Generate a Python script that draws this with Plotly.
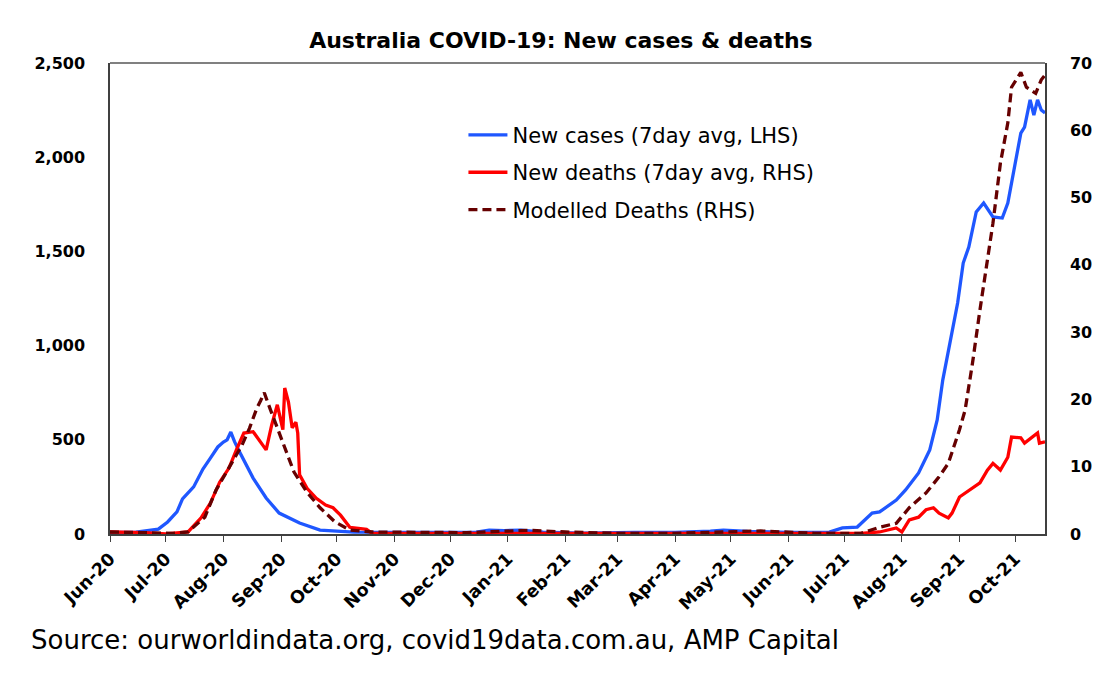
import plotly.graph_objects as go

# ---- data ----
case_dates = ["2020-06-01","2020-06-15","2020-06-27","2020-07-02","2020-07-07","2020-07-10","2020-07-16",
              "2020-07-21","2020-07-25","2020-07-29","2020-08-01","2020-08-03","2020-08-05","2020-08-07",
              "2020-08-10","2020-08-17","2020-08-24","2020-08-31","2020-09-11","2020-09-22","2020-10-10",
              "2020-11-01","2020-12-01","2020-12-15","2020-12-22","2020-12-30","2021-01-08","2021-01-20",
              "2021-02-10","2021-03-10","2021-04-01","2021-04-20","2021-04-27","2021-05-10","2021-06-01",
              "2021-06-23","2021-06-30","2021-07-08","2021-07-16","2021-07-20","2021-07-29","2021-08-03",
              "2021-08-10","2021-08-16","2021-08-20","2021-08-23","2021-08-26","2021-08-31","2021-09-03",
              "2021-09-06","2021-09-10","2021-09-14","2021-09-19","2021-09-24","2021-09-27","2021-10-01",
              "2021-10-04","2021-10-06","2021-10-09","2021-10-11","2021-10-13","2021-10-15","2021-10-17"]
new_cases = [8,10,26,64,117,186,250,
             345,403,462,488,500,541,490,
             430,297,191,111,58,21,10,
             8,9,10,21,18,20,10,
             5,8,9,15,21,14,8,
             10,32,37,111,117,180,234,
             324,446,605,817,977,1226,1438,
             1523,1709,1757,1683,1677,1757,1969,
             2128,2160,2304,2224,2304,2250,2235]

death_dates = ["2020-06-01","2020-06-20","2020-07-01","2020-07-13","2020-07-20","2020-07-25","2020-07-30",
               "2020-08-04","2020-08-08","2020-08-12","2020-08-17","2020-08-20","2020-08-24","2020-08-27",
               "2020-08-30","2020-09-02","2020-09-03","2020-09-05","2020-09-07","2020-09-09","2020-09-10",
               "2020-09-11","2020-09-15","2020-09-20","2020-09-25","2020-09-29","2020-10-03","2020-10-08",
               "2020-10-17","2020-10-20","2020-11-15","2021-01-15","2021-04-01","2021-07-10","2021-07-20",
               "2021-07-29","2021-08-01","2021-08-05","2021-08-10","2021-08-14","2021-08-18","2021-08-21",
               "2021-08-26","2021-08-28","2021-09-01","2021-09-06","2021-09-12","2021-09-16","2021-09-19",
               "2021-09-23","2021-09-27","2021-09-29","2021-10-04","2021-10-06","2021-10-10","2021-10-13",
               "2021-10-14","2021-10-17"]
new_deaths = [0.3,0.2,0.0,0.3,2.4,4.6,7.7,
              9.8,12.5,15.0,15.2,14.0,12.5,16.2,
              19.2,15.5,21.7,19.6,15.8,16.6,15.0,
              8.8,6.8,5.3,4.3,3.9,2.8,1.0,
              0.7,0.1,0.1,0.1,0.1,0.1,0.3,
              0.9,0.3,2.1,2.5,3.6,3.9,3.1,
              2.4,3.1,5.5,6.5,7.6,9.5,10.5,
              9.5,11.4,14.4,14.3,13.5,14.4,15.0,
              13.5,13.7]

model_dates = ["2020-06-01","2020-06-20","2020-07-05","2020-07-13","2020-07-22","2020-07-28","2020-08-04",
               "2020-08-11","2020-08-15","2020-08-19","2020-08-21","2020-08-23","2020-08-26","2020-08-30",
               "2020-09-03","2020-09-08","2020-09-15","2020-09-22","2020-09-30","2020-10-08","2020-10-20",
               "2020-11-10","2020-12-10","2021-01-12","2021-02-01","2021-03-01","2021-04-01","2021-05-17",
               "2021-06-15","2021-07-10","2021-07-20","2021-07-29","2021-08-05","2021-08-14","2021-08-21",
               "2021-08-26","2021-09-01","2021-09-04","2021-09-08","2021-09-12","2021-09-16","2021-09-19",
               "2021-09-23","2021-09-27","2021-09-29","2021-10-04","2021-10-07","2021-10-12","2021-10-15",
               "2021-10-17"]
modelled_deaths = [0.3,0.2,0.1,0.3,2.5,6.5,9.8,
                   13.2,15.7,18.7,19.8,21.0,18.7,15.7,
                   12.8,9.2,6.2,3.9,1.8,0.6,0.3,
                   0.3,0.2,0.55,0.3,0.1,0.1,0.45,
                   0.1,0.1,1.0,1.6,3.9,6.1,8.5,
                   10.5,15.5,18.4,25.4,33.3,40.3,46.2,
                   55.1,61.1,66.4,68.6,66.4,65.5,67.5,
                   68.2]

title_text = "Australia COVID-19: New cases & deaths"
source_text = "Source: ourworldindata.org, covid19data.com.au, AMP Capital"

FONT = "DejaVu Sans, Arial, sans-serif"
YTICKFONT = dict(size=16, family=FONT, color="black", weight="bold")
XTICKFONT = dict(size=17.5, family=FONT, color="black", weight="bold")

fig = go.Figure()
fig.add_trace(go.Scatter(x=case_dates, y=new_cases, mode="lines",
                         name="New cases (7day avg, LHS)", legendgroup="a",
                         line=dict(color="#1F57FF", width=3.3)))
fig.add_trace(go.Scatter(x=death_dates, y=new_deaths, mode="lines", yaxis="y2",
                         name="New deaths (7day avg, RHS)", legendgroup="b",
                         line=dict(color="#FF0000", width=3.3)))
fig.add_trace(go.Scatter(x=model_dates, y=modelled_deaths, mode="lines", yaxis="y2",
                         name="Modelled Deaths (RHS)", legendgroup="c",
                         line=dict(color="#660000", width=3.3, dash="9px,5px")))

# page has an 8px body margin, so the figure is 8px smaller and margins shifted
fig.update_layout(
    width=1107, height=665,
    margin=dict(l=102, r=70, t=55, b=139),
    paper_bgcolor="white", plot_bgcolor="white",
    font=dict(family=FONT, color="black"),
    title=dict(text="<b>" + title_text + "</b>", x=0.4995, xref="container", xanchor="center",
               y=1 - 32 / 665, yref="container", yanchor="middle",
               font=dict(size=22, family=FONT, color="black")),
    showlegend=True,
    legend=dict(x=0.378, y=0.89, xanchor="left", yanchor="top",
                bgcolor="rgba(0,0,0,0)", font=dict(size=21, family=FONT),
                tracegroupgap=7, itemwidth=39),
    xaxis=dict(type="date", range=["2020-06-01", "2021-10-17"],
               tick0="2020-06-01", dtick="M1", tickformat="%b-%y", tickangle=-45,
               ticks="outside", ticklen=6, tickcolor="#404040", tickwidth=1,
               showline=True, linecolor="#404040", linewidth=1.5,
               showgrid=False, zeroline=False, tickfont=XTICKFONT),
    yaxis=dict(range=[0, 2500], dtick=500, tickformat=",", showgrid=False, zeroline=False,
               showline=True, linecolor="#404040", linewidth=1.5, ticks="",
               ticklabelstandoff=20, tickfont=YTICKFONT),
    yaxis2=dict(range=[0, 70], dtick=10, overlaying="y", side="right",
                showgrid=False, zeroline=False, showline=True, linecolor="#404040",
                linewidth=1.5, ticks="", ticklabelstandoff=20, tickfont=YTICKFONT),
)

# top border of plot box
fig.add_shape(type="line", xref="paper", yref="paper", x0=0, x1=1, y0=1, y1=1,
              line=dict(color="#808080", width=2))

fig.add_annotation(text=source_text, xref="paper", yref="paper",
                   x=(29 - 110) / 935, y=(534 - 640) / 471, xanchor="left", yanchor="middle",
                   showarrow=False, font=dict(size=26, family=FONT, color="black"))

fig.write_html("out.html")
